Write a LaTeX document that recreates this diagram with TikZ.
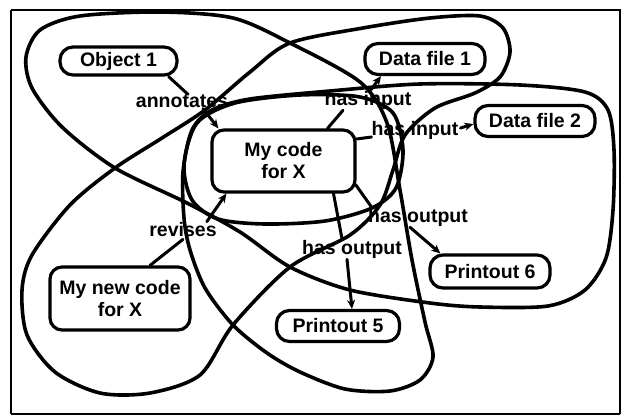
\documentclass[tikz,border=0pt]{standalone}
\usepackage{fontspec}
\setmainfont{Liberation Sans}
\usetikzlibrary{arrows.meta,calc}
\begin{document}
\begin{tikzpicture}[x=1pt,y=-1pt,
  txt/.style={font=\fontsize{19.5}{22}\selectfont\bfseries},
  pill/.style={txt,draw,fill=white,line width=3.2pt,rounded corners=13pt,inner sep=0pt,minimum width=120pt,minimum height=31pt},
  codebox/.style={txt,draw,fill=white,line width=3.2pt,rounded corners=12pt,inner sep=0pt,align=center},
  rel/.style={txt,inner sep=1pt},
  loopline/.style={line width=3.6pt,line join=round},
  conn/.style={line width=3pt,line cap=round},
  arr/.style={conn,-{Stealth[length=9pt,width=8pt]}}]
\useasboundingbox (0,0) rectangle (623,417);
% frame
\draw[line width=2.8pt] (11,10) -- (620,10) -- (620,414);
\draw[line width=2.8pt] (11,10) -- (11,414);
\draw[line width=1.6pt] (11,414) -- (620,414);
% loops
\draw[loopline] plot[smooth cycle] coordinates {
 (184,218) (183,172) (192,130) (212,110) (250,99) (330,91) (420,84) (520,85)
 (585,92) (608,110) (614,150) (613,210) (606,258) (585,290) (548,306) (480,307)
 (430,303) (350,290) (290,267) (240,232) (187,203) (115,168) (62,127) (32,88)
 (26,57) (40,30) (80,16) (160,12) (233,18) (290,43) (360,82) (387,123) (400,190)
 (412,260) (425,322) (433,357) (420,380) (390,391) (345,389) (300,372) (267,353)
 (233,325) (205,288) (190,250)};
\draw[loopline] plot[smooth cycle] coordinates {
 (290,43) (363,28) (430,18) (480,16) (503,28) (510,52) (500,77) (475,93)
 (435,108) (405,135) (393,170) (380,205) (350,235) (290,267) (233,325) (200,375)
 (150,393) (100,393) (55,372) (27,335) (22,290) (32,255) (70,205) (115,168)
 (162,138) (205,110) (250,72)};
\draw[loopline] plot[smooth cycle] coordinates {
 (184,165) (197,123) (235,103) (300,95) (360,97) (393,113) (403,150) (396,188)
 (372,208) (325,221) (265,224) (218,219) (192,200)};
% nodes
\node[pill,minimum width=117pt,minimum height=28pt] (obj) at (118.5,61) {Object 1};
\node[pill] (df1) at (425,59) {Data file 1};
\node[pill] (df2) at (535,121) {Data file 2};
\node[pill,minimum width=123pt] (pr5) at (338,326) {Printout 5};
\node[pill,minimum height=33pt] (pr6) at (490,271.5) {Printout 6};
\node[codebox,minimum width=143pt,minimum height=62pt] (code) at (283.5,161) {My code\\for X};
\node[codebox,minimum width=140pt,minimum height=63pt] (newcode) at (120,298.5) {My new code\\for X};
% relation labels
\node[rel] (annot) at (182,101) {annotates};
\node[rel] (hasin1) at (368,100) {has input};
\node[rel] (hasin2) at (415,130) {has input};
\node[rel] (hasout1) at (418,217) {has output};
\node[rel] (hasout2) at (352,249) {has output};
\node[rel] (rev) at (183,230) {revises};
% connectors
\draw[conn] ($(obj.south east)+(-10,0)$) -- ($(annot.north)+(6,1)$);
\draw[arr] ($(annot.south)+(21,0)$) -- ($(code.north west)+(8,0)$);
\draw[conn] ($(code.north)+(44,0)$) -- ($(hasin1.south)+(-25,0)$);
\draw[arr] ($(hasin1.north)+(3,0)$) -- ($(df1.south)+(-44,0)$);
\draw[conn] ($(code.east)+(0,-22)$) -- ($(hasin2.west)+(1,7)$);
\draw[arr] ($(hasin2.east)+(1,-2)$) -- ($(df2.west)+(0,3)$);
\draw[conn] ($(code.south east)+(-1,-9)$) -- ($(hasout1.north west)+(5,1)$);
\draw[arr] ($(hasout1.south)+(-8,0)$) -- ($(pr6.north west)+(12,0)$);
\draw[conn] ($(code.south)+(50,0)$) -- ($(hasout2.north)+(-10,0)$);
\draw[arr] ($(hasout2.south)+(-5,0)$) -- ($(pr5.north)+(14,0)$);
\draw[conn] ($(newcode.north)+(30,0)$) -- ($(rev.south)+(0,1)$);
\draw[arr] ($(rev.north east)+(-11,0)$) -- ($(code.south west)+(16,0)$);
\end{tikzpicture}
\end{document}
